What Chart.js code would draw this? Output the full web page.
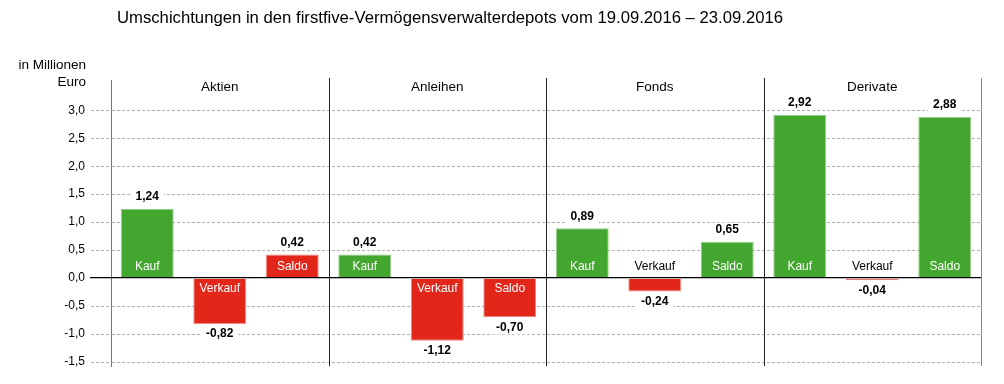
<!DOCTYPE html>
<html>
<head>
<meta charset="utf-8">
<script src="https://cdn.jsdelivr.net/npm/chart.js@4/dist/chart.umd.min.js"></script>
<style>
  html, body { margin: 0; padding: 0; background: #fff; }
  #wrap { width: 1004px; height: 384px; }
</style>
</head>
<body>
<div id="wrap"><canvas id="grafico" width="1004" height="384"></canvas></div>
<script>
// Daten
var gruppen = ["Aktien", "Anleihen", "Fonds", "Derivate"];
var arten = ["Kauf", "Verkauf", "Saldo"];
var werte = [1.24, -0.82, 0.42, 0.42, -1.12, -0.70, 0.89, -0.24, 0.65, 2.92, -0.04, 2.88];
var yTicks = [-1.5, -1.0, -0.5, 0, 0.5, 1.0, 1.5, 2.0, 2.5, 3.0];

// Farben je Balken
var gruen = "rgb(67,166,46)", rot = "rgb(227,38,26)";
var farben = [gruen, rot, rot, gruen, rot, rot, gruen, rot, gruen, gruen, rot, gruen];
var rahmen = farben.map(function(f) { return f === gruen ? "rgb(150,205,135)" : "rgb(240,140,130)"; });

var labels = [];
gruppen.forEach(function(g) { arten.forEach(function(a) { labels.push(g + " " + a); }); });

var komma = function(v, d) { return v.toFixed(d).replace(".", ","); };
var schrift = '"Liberation Sans", Arial, sans-serif';

var beschriftung = {
  id: "beschriftung",
  afterDatasetsDraw: function(chart) {
    var ctx = chart.ctx, area = chart.chartArea;
    var y = chart.scales.y;
    var y0 = y.getPixelForValue(0);
    ctx.save();

    // Nulllinie
    ctx.strokeStyle = "#000";
    ctx.lineWidth = 1.2;
    ctx.beginPath();
    ctx.moveTo(90, y0 - 0.5);
    ctx.lineTo(area.right, y0 - 0.5);
    ctx.stroke();

    // Trennlinien der Gruppen
    var breite = (area.right - area.left) / gruppen.length;
    ctx.lineWidth = 1;
    for (var i = 1; i <= gruppen.length; i++) {
      var x = Math.round(area.left + breite * i) + 0.5;
      ctx.strokeStyle = i === gruppen.length ? "#888" : "#222";
      ctx.beginPath();
      ctx.moveTo(x, area.top - 2);
      ctx.lineTo(x, area.bottom);
      ctx.stroke();
    }

    // Gruppenkoepfe
    ctx.fillStyle = "#000";
    ctx.font = "13.5px " + schrift;
    ctx.textAlign = "center";
    ctx.textBaseline = "middle";
    gruppen.forEach(function(g, i) {
      ctx.fillText(g, area.left + breite * (i + 0.5), 87);
    });

    // Balkenbeschriftung
    var meta = chart.getDatasetMeta(0);
    meta.data.forEach(function(bar, i) {
      var v = werte[i];
      var hoehe = Math.abs(bar.y - bar.base);
      var art = arten[i % 3];
      ctx.font = "12px " + schrift;
      if (hoehe > 20) {
        ctx.fillStyle = "#fff";
        ctx.fillText(art, bar.x, v > 0 ? y0 - 11 : y0 + 11);
      } else {
        ctx.fillStyle = "#000";
        ctx.fillText(art, bar.x, v > 0 ? y0 + 11 : y0 - 11);
      }
      ctx.font = "bold 12px " + schrift;
      var txt = komma(v, 2);
      var w = ctx.measureText(txt).width;
      var ly = v > 0 ? bar.y - 12 : bar.y + 10;
      ctx.fillStyle = "#fff";
      ctx.fillRect(bar.x - w / 2 - 5, ly - 7, w + 10, 14);
      ctx.fillStyle = "#000";
      ctx.fillText(txt, bar.x, ly);
    });

    // Achsentitel
    ctx.font = "13.5px " + schrift;
    ctx.textAlign = "right";
    ctx.fillText("in Millionen", 86, 65);
    ctx.fillText("Euro", 86, 82);

    // Titel
    ctx.font = "16.7px " + schrift;
    ctx.textAlign = "center";
    ctx.fillText("Umschichtungen in den firstfive-Verm\u00f6gensverwalterdepots vom 19.09.2016 \u2013 23.09.2016", 450, 18);
    ctx.restore();
  }
};

var grafico = new Chart(document.getElementById("grafico").getContext("2d"), {
  type: "bar",
  data: {
    labels: labels,
    datasets: [{
      data: werte,
      backgroundColor: farben,
      borderColor: rahmen,
      borderWidth: 1,
      borderSkipped: "start",
      barPercentage: 0.73,
      categoryPercentage: 1
    }]
  },
  options: {
    responsive: false,
    animation: false,
    layout: { padding: { left: 0, right: 23, top: 80, bottom: 18 } },
    plugins: { legend: { display: false }, tooltip: { enabled: false } },
    scales: {
      x: { display: false },
      y: {
        min: -1.57,
        max: 3.54,
        afterBuildTicks: function(scale) {
          scale.ticks = yTicks.map(function(v) { return { value: v }; });
        },
        afterFit: function(scale) { scale.width = 111; },
        border: { display: true, color: "#777", width: 1, dash: [3, 2] },
        grid: {
          color: function(c) { return c.tick && c.tick.value === 0 ? "rgba(0,0,0,0)" : "#b0b0b0"; },
          tickColor: function(c) { return c.tick && c.tick.value === 0 ? "rgba(0,0,0,0)" : "#b0b0b0"; },
          tickLength: 20,
          tickBorderDash: [3, 2],
          lineWidth: 1
        },
        ticks: {
          padding: 6,
          color: "#000",
          font: { family: schrift, size: 12 },
          callback: function(v) { return komma(v, 1); }
        }
      }
    }
  },
  plugins: [beschriftung]
});
</script>
</body>
</html>
